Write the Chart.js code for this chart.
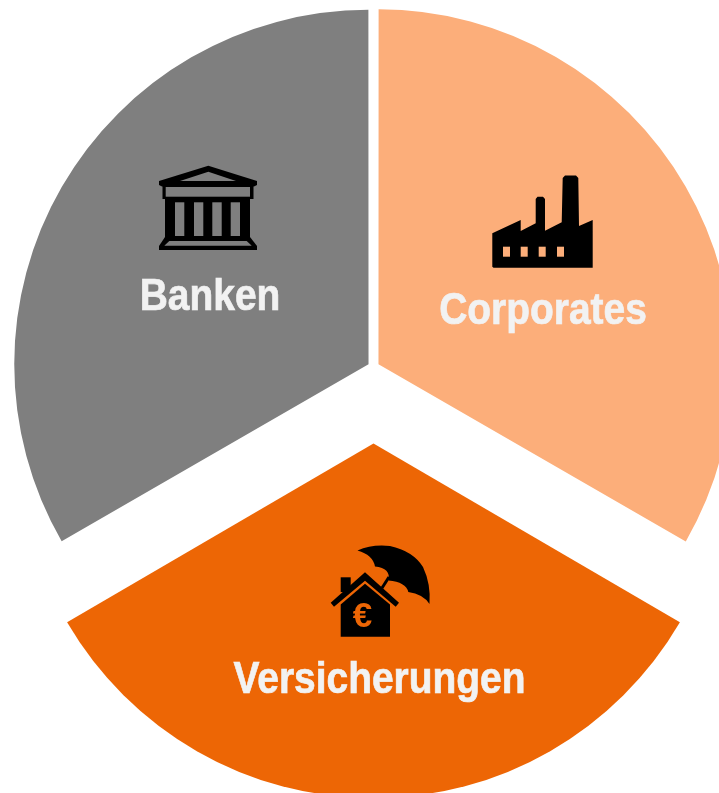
<!DOCTYPE html>
<html>
<head>
<meta charset="utf-8">
<title>Banken, Corporates, Versicherungen</title>
<script src="https://cdn.jsdelivr.net/npm/chart.js@4"></script>
<style>
  html, body { margin: 0; padding: 0; background: #fff; width: 719px; height: 793px; overflow: hidden; }
  #chart { position: absolute; left: -127px; top: -133px; }
</style>
</head>
<body>
<canvas id="chart" width="1001" height="1000"></canvas>
<script>
const categories = ['Corporates', 'Versicherungen', 'Banken'];
const shares = [1, 1, 1];
const sliceColors = ['#FCAE7A', '#ED6605', '#7F7F7F'];
// chart.js draws the offset at a quarter of this value
const sliceOffsets = [23, 306, 23];
// a big offset also grows the drawn arc, so pull each slice's radius back by hand
const sliceRadii = [354, 344.5, 353.5];

const TEXT_COLOR = '#F2F2F2';
const ICON_COLOR = '#000000';

// canvas hangs off the page so the big radius fits, icons below use page coords
const PAGE_X = 127;
const PAGE_Y = 133;

function poly(ctx, pts, color) {
  ctx.fillStyle = color;
  ctx.beginPath();
  pts.forEach(([x, y], i) => i ? ctx.lineTo(x, y) : ctx.moveTo(x, y));
  ctx.closePath();
  ctx.fill();
}

function rect(ctx, x0, y0, x1, y1, color) {
  ctx.fillStyle = color;
  ctx.fillRect(x0, y0, x1 - x0, y1 - y0);
}

function drawBank(ctx, bg) {
  poly(ctx, [[208.3, 165.7], [257, 181], [257, 185], [254, 186.5], [162, 186.5], [159, 185], [159, 181]], ICON_COLOR);
  poly(ctx, [[208.3, 171.7], [236, 181], [180, 181]], bg);
  rect(ctx, 162.5, 186, 253.5, 199, ICON_COLOR);
  rect(ctx, 165.7, 187, 250, 196.7, bg);
  rect(ctx, 165, 198, 250, 238, ICON_COLOR);
  [[175, 184.3], [194, 203.3], [212.3, 221.7], [230.7, 240]].forEach(([a, b]) => rect(ctx, a, 202.3, b, 236, bg));
  poly(ctx, [[165, 237], [250, 237], [257, 246], [257, 250], [159, 250], [159, 246]], ICON_COLOR);
  poly(ctx, [[169.3, 241], [246.7, 241], [251.7, 245.7], [164.3, 245.7]], bg);
}

function drawFactory(ctx, bg) {
  poly(ctx, [[492.3, 266.7], [492.3, 233.3], [520.7, 220], [520.7, 231], [535.7, 223.3], [535.7, 199], [537.5, 196.8],
    [543, 196.8], [545, 199], [545, 230.7], [561.7, 222.3], [562.7, 178], [565, 175.5], [576, 175.5], [578.3, 178],
    [579, 226], [592.7, 220], [592.7, 267.8], [493.5, 267.8]], ICON_COLOR);
  [[503, 510], [520.7, 527.7], [538.7, 545.7], [557, 564]].forEach(([a, b]) => rect(ctx, a, 246.7, b, 256.7, bg));
}

function drawInsurance(ctx, bg) {
  // umbrella
  ctx.fillStyle = ICON_COLOR;
  ctx.beginPath();
  ctx.moveTo(357.5, 550.5);
  ctx.quadraticCurveTo(372, 544, 390, 546);
  ctx.quadraticCurveTo(413, 551, 423, 567);
  ctx.quadraticCurveTo(431, 584, 429.5, 604);
  ctx.quadraticCurveTo(423, 594, 408.3, 592);
  ctx.quadraticCurveTo(406, 582, 388.5, 580.5);
  ctx.quadraticCurveTo(391, 568, 375, 566.5);
  ctx.quadraticCurveTo(373, 555, 357.5, 550.5);
  ctx.closePath();
  ctx.fill();
  ctx.strokeStyle = ICON_COLOR;
  ctx.lineWidth = 3;
  ctx.beginPath();
  ctx.moveTo(389, 577);
  ctx.lineTo(382, 588);
  ctx.stroke();
  // house
  rect(ctx, 340.7, 577.3, 350.7, 592, ICON_COLOR);
  poly(ctx, [[330.7, 602.7], [365, 572.3], [399, 602.7], [395.7, 606.7], [365, 580.7], [334, 606.7]], ICON_COLOR);
  poly(ctx, [[340.7, 636.7], [340.7, 604.5], [365, 583.7], [390, 604.5], [390, 636.7]], ICON_COLOR);
  ctx.fillStyle = bg;
  ctx.textAlign = 'center';
  ctx.textBaseline = 'alphabetic';
  ctx.font = 'bold 35px "Liberation Sans", Arial, sans-serif';
  ctx.fillText('€', 362.5, 627);
}

function drawLabel(ctx, text, centerX, baseline) {
  ctx.save();
  ctx.translate(centerX, baseline);
  ctx.scale(0.865, 1);
  ctx.fillStyle = TEXT_COLOR;
  ctx.strokeStyle = TEXT_COLOR;
  ctx.lineWidth = 0.7;
  ctx.textAlign = 'center';
  ctx.textBaseline = 'alphabetic';
  ctx.font = 'bold 45px "Liberation Sans", Arial, sans-serif';
  ctx.fillText(text, 0, 0);
  ctx.strokeText(text, 0, 0);
  ctx.restore();
}

const sliceDecor = {
  id: 'sliceDecor',
  beforeDatasetsDraw(chart) {
    chart.getDatasetMeta(0).data.forEach((arc, i) => { arc.outerRadius = sliceRadii[i]; });
  },
  afterDatasetsDraw(chart) {
    const ctx = chart.ctx;
    ctx.save();
    ctx.translate(PAGE_X, PAGE_Y);
    drawBank(ctx, sliceColors[2]);
    drawFactory(ctx, sliceColors[0]);
    drawInsurance(ctx, sliceColors[1]);
    drawLabel(ctx, categories[2], 210, 310);
    drawLabel(ctx, categories[0], 543, 324);
    drawLabel(ctx, categories[1], 379.5, 693);
    ctx.restore();
  }
};

new Chart(document.getElementById('chart'), {
  type: 'pie',
  data: {
    labels: categories,
    datasets: [{
      data: shares,
      backgroundColor: sliceColors,
      borderWidth: 0,
      offset: sliceOffsets,
      hoverOffset: 0
    }]
  },
  options: {
    responsive: false,
    animation: false,
    radius: 354,
    layout: { padding: 0 },
    events: [],
    plugins: {
      legend: { display: false },
      tooltip: { enabled: false }
    }
  },
  plugins: [sliceDecor]
});
</script>
</body>
</html>
